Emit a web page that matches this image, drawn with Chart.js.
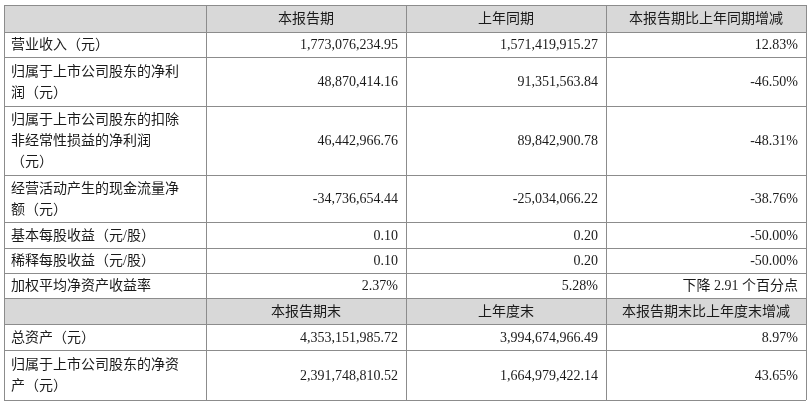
<!DOCTYPE html>
<html lang="zh">
<head>
<meta charset="UTF-8" />
<title>主要会计数据</title>
<script src="https://cdn.jsdelivr.net/npm/chart.js"></script>
<style>body{margin:0;background:#fff}</style>
</head>
<body>
<canvas id="tbl" width="810" height="408"></canvas>
<script>
// table content
const header1 = ["", "本报告期", "上年同期", "本报告期比上年同期增减"];
const header2 = ["", "本报告期末", "上年度末", "本报告期末比上年度末增减"];
const labels = [
  ["营业收入（元）"],
  ["归属于上市公司股东的净利", "润（元）"],
  ["归属于上市公司股东的扣除", "非经常性损益的净利润", "（元）"],
  ["经营活动产生的现金流量净", "额（元）"],
  ["基本每股收益（元/股）"],
  ["稀释每股收益（元/股）"],
  ["加权平均净资产收益率"],
  null,
  ["总资产（元）"],
  ["归属于上市公司股东的净资", "产（元）"]
];
const current = ["1,773,076,234.95", "48,870,414.16", "46,442,966.76", "-34,736,654.44", "0.10", "0.10", "2.37%", null, "4,353,151,985.72", "2,391,748,810.52"];
const previous = ["1,571,419,915.27", "91,351,563.84", "89,842,900.78", "-25,034,066.22", "0.20", "0.20", "5.28%", null, "3,994,674,966.49", "1,664,979,422.14"];
const change = ["12.83%", "-46.50%", "-48.31%", "-38.76%", "-50.00%", "-50.00%", "下降 2.91 个百分点", null, "8.97%", "43.65%"];

// grid layout (pixel units on the hidden scales)
const colEdges = [4, 206, 406, 606, 806];
const rowEdges = [5, 32, 57, 106, 175, 222, 248, 273, 298, 324, 350, 400];
const headerRows = [0, 8];

const tablePlugin = {
  id: "table",
  afterDraw(chart) {
    const ctx = chart.ctx, xs = chart.scales.x, ys = chart.scales.y;
    const X = v => xs.getPixelForValue(v), Y = v => ys.getPixelForValue(v);
    ctx.save();
    ctx.fillStyle = "#d8d8d8";
    headerRows.forEach(r => ctx.fillRect(X(colEdges[0]), Y(rowEdges[r]), X(colEdges[4]) - X(colEdges[0]), Y(rowEdges[r + 1]) - Y(rowEdges[r])));
    ctx.strokeStyle = "#8c8c8c"; ctx.lineWidth = 1;
    rowEdges.forEach(y => { ctx.beginPath(); ctx.moveTo(X(colEdges[0]), Y(y) + 0.5); ctx.lineTo(X(colEdges[4]), Y(y) + 0.5); ctx.stroke(); });
    colEdges.forEach(x => { ctx.beginPath(); ctx.moveTo(X(x) + 0.5, Y(rowEdges[0])); ctx.lineTo(X(x) + 0.5, Y(rowEdges[rowEdges.length - 1])); ctx.stroke(); });
    ctx.fillStyle = "#1a1a1a";
    ctx.font = "14px 'Liberation Serif', 'Noto Sans CJK SC', serif";
    ctx.textBaseline = "middle";
    const lh = 21;
    for (let r = 0; r < rowEdges.length - 1; r++) {
      const top = Y(rowEdges[r]), bot = Y(rowEdges[r + 1]), mid = (top + bot) / 2;
      const hdr = r === 0 ? header1 : r === 8 ? header2 : null;
      const i = r - 1;
      if (hdr) {
        ctx.textAlign = "center";
        for (let c = 1; c < 4; c++) ctx.fillText(hdr[c], (X(colEdges[c]) + X(colEdges[c + 1])) / 2, mid + 1);
        continue;
      }
      const lines = labels[i];
      ctx.textAlign = "left";
      lines.forEach((t, k) => ctx.fillText(t, X(colEdges[0]) + 7, mid + 1 + (k - (lines.length - 1) / 2) * lh));
      ctx.textAlign = "right";
      [current[i], previous[i], change[i]].forEach((t, c) => ctx.fillText(t, X(colEdges[c + 2]) - 8, mid + 1));
    }
    ctx.restore();
  }
};

new Chart(document.getElementById("tbl").getContext("2d"), {
  type: "scatter",
  data: { datasets: [{ data: [] }] },
  options: {
    responsive: false, animation: false,
    layout: { padding: 0 },
    plugins: { legend: { display: false }, tooltip: { enabled: false } },
    scales: {
      x: { type: "linear", min: 0, max: 810, display: false },
      y: { type: "linear", min: 0, max: 408, reverse: true, display: false }
    }
  },
  plugins: [tablePlugin]
});
</script>
</body>
</html>
